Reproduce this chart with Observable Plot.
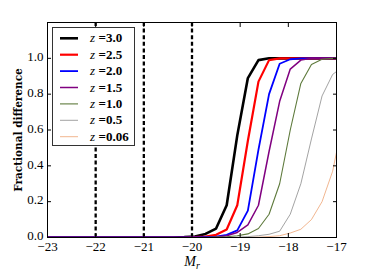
<!DOCTYPE html>
<html><head><meta charset="utf-8">
<script src="https://cdn.jsdelivr.net/npm/d3@7"></script>
<script src="https://cdn.jsdelivr.net/npm/@observablehq/plot@0.6"></script>
<style>
body{margin:0;background:#fff;}
#wrap{position:relative;width:374px;height:280px;}
#wrap svg{position:absolute;left:0;top:0;}
</style></head><body><div id="wrap"></div>
<script>
// absolute magnitude grid M_r
const mags = [-23.0, -20.38, -20.16, -19.94, -19.72, -19.50, -19.28, -19.06, -18.84, -18.62, -18.40, -18.18, -17.96, -17.74, -17.52, -17.30, -17.08, -16.86];
const redshiftLabels = ["3.0", "2.5", "2.0", "1.5", "1.0", "0.5", "0.06"];
const seriesColors = ["#000000", "#ff0000", "#0000ff", "#800080", "#5e7a3c", "#8c8c8c", "#eb9660"];
const lineWidths = [2.6, 2.2, 1.8, 1.5, 1.1, 0.8, 0.7];
const fracZ30  = [0, 0, 0.002, 0.006, 0.02, 0.05, 0.18, 0.57, 0.89, 0.99, 1.0, 1.0, 1.0, 1.0, 1.0, 1.0, 1.0, 1.0];
const fracZ25  = [0, 0, 0, 0.002, 0.005, 0.015, 0.045, 0.18, 0.54, 0.87, 0.99, 1.0, 1.0, 1.0, 1.0, 1.0, 1.0, 1.0];
const fracZ20  = [0, 0, 0, 0, 0.002, 0.005, 0.015, 0.04, 0.15, 0.49, 0.80, 0.97, 0.995, 1.0, 1.0, 1.0, 1.0, 1.0];
const fracZ15  = [0, 0, 0, 0, 0, 0.003, 0.01, 0.028, 0.07, 0.18, 0.48, 0.76, 0.94, 0.99, 1.0, 1.0, 1.0, 1.0];
const fracZ10  = [0, 0, 0, 0, 0, 0.002, 0.004, 0.01, 0.02, 0.05, 0.13, 0.30, 0.60, 0.86, 0.965, 0.995, 1.0, 1.0];
const fracZ05  = [0, 0, 0, 0, 0, 0, 0, 0.002, 0.005, 0.01, 0.018, 0.035, 0.13, 0.30, 0.55, 0.79, 0.91, 0.955];
const fracZ006 = [0, 0, 0, 0, 0, 0, 0, 0, 0, 0.002, 0.005, 0.01, 0.025, 0.046, 0.10, 0.20, 0.37, 0.66];
const cutMags = [-22, -21, -20];
const xTicks = [-23, -22, -21, -20, -19, -18, -17];
const yTicks = [0, 0.2, 0.4, 0.6, 0.8, 1.0];

const series = [fracZ30, fracZ25, fracZ20, fracZ15, fracZ10, fracZ05, fracZ006];
const lineMarks = series.map((vals, s) =>
  Plot.line(vals.map((v, i) => ({M: mags[i], f: v})), {
    x: "M", y: "f", stroke: seriesColors[s], strokeWidth: lineWidths[s], clip: true
  })
);

const fmtY = d3.format(".1f");
const chart = Plot.plot({
  width: 374, height: 280,
  marginLeft: 47, marginRight: 38, marginTop: 22, marginBottom: 43,
  style: {fontFamily: "Liberation Serif", fontSize: "13px", background: "white", color: "#000"},
  x: {domain: [-23, -17]},
  y: {domain: [0, 1.2]},
  marks: [
    Plot.ruleX(cutMags, {stroke: "black", strokeWidth: 2.3, strokeDasharray: "4,2.6"}),
    ...lineMarks,
    Plot.frame({stroke: "black", strokeWidth: 1}),
    Plot.axisX(xTicks, {anchor: "bottom", tickSize: 0, tickPadding: 4, label: null, fontSize: 13}),
    Plot.axisX(xTicks, {anchor: "bottom", tickSize: -4, tickFormat: () => "", label: null}),
    Plot.axisX(xTicks, {anchor: "top", tickSize: -4, tickFormat: () => "", label: null}),
    Plot.axisY(yTicks, {anchor: "left", tickSize: 0, tickPadding: 4, dy: -1.5, tickFormat: fmtY, label: null, fontSize: 13}),
    Plot.axisY(yTicks, {anchor: "left", tickSize: -4, tickFormat: () => "", label: null}),
    Plot.axisY(yTicks, {anchor: "right", tickSize: -4, tickFormat: () => "", label: null})
  ]
});
const wrap = document.getElementById("wrap");
wrap.appendChild(chart);

// overlay: axis titles and legend
const ov = d3.select(wrap).append("svg").attr("width", 374).attr("height", 280)
  .attr("font-family", "Liberation Serif");
ov.append("text").attr("transform", "translate(22,130) rotate(-90)")
  .attr("text-anchor", "middle").attr("font-weight", "bold").attr("font-size", 10.5)
  .attr("font-family", "DejaVu Serif")
  .text("Fractional difference");
const xl = ov.append("text").attr("x", 192).attr("y", 266).attr("text-anchor", "middle")
  .attr("font-style", "italic").attr("font-size", 14);
xl.append("tspan").text("M");
xl.append("tspan").attr("font-size", 10).attr("dy", 2.5).text("r");

const leg = ov.append("g");
leg.append("rect").attr("x", 52.5).attr("y", 27.5).attr("width", 82).attr("height", 118)
  .attr("fill", "white").attr("stroke", "#333").attr("stroke-width", 1);
redshiftLabels.forEach((lab, i) => {
  const cy = 38.3 + i * 16.4;
  leg.append("line").attr("x1", 60).attr("x2", 78).attr("y1", cy).attr("y2", cy)
    .attr("stroke", seriesColors[i]).attr("stroke-width", lineWidths[i]);
  const t = leg.append("text").attr("x", 90).attr("y", cy + 4).attr("font-size", 13);
  t.append("tspan").attr("font-style", "italic").text("z");
  t.append("tspan").attr("dx", 3.5).attr("font-weight", "bold").text("=" + lab);
});
</script></body></html>
